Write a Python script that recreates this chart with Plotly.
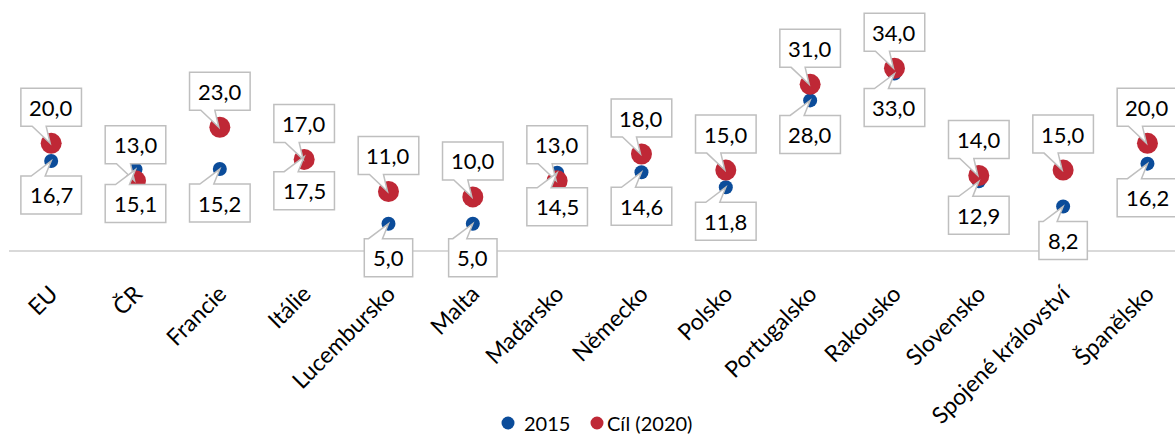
import plotly.graph_objects as go

# Data
categories = ["EU", "ČR", "Francie", "Itálie", "Lucembursko", "Malta", "Maďarsko",
              "Německo", "Polsko", "Portugalsko", "Rakousko", "Slovensko",
              "Spojené království", "Španělsko"]
values_2015 = [16.7, 15.1, 15.2, 17.5, 5.0, 5.0, 14.5, 14.6, 11.8, 28.0, 33.0, 12.9, 8.2, 16.2]
values_2020 = [20.0, 13.0, 23.0, 17.0, 11.0, 10.0, 13.0, 18.0, 15.0, 31.0, 34.0, 14.0, 15.0, 20.0]
series_names = ["2015", "Cíl (2020)"]

BLUE = "#0B4C9A"
RED = "#BF2836"
BOX_LINE = "#BFBFBF"
FONT = "Lato"
FS_LABEL = 22
FS_TICK = 23
FS_LEGEND = 20

W, H = 1175, 437
PX_PER_UNIT = 5.36      # vertical scale
BASE_PX = 250.5         # pixel row of the zero line
CAT_PX = 84.33          # width of one category slot
LEFT = 9

# legend layout (pixels): marker centre x, text start x, row centre y
LEGEND_ITEMS = [(508, 523), (597, 606)]
LEGEND_Y = 423

x_idx = list(range(len(categories)))


def fmt(v):
    return f"{v:.1f}".replace(".", ",")


def box_width(text):
    digits = sum(c.isdigit() for c in text)
    return 18 + 12.2 * digits + 6 * text.count(",")


def px_to_paper_x(px):
    return (px - LEFT) / (W - LEFT)


def px_to_paper_y(py):
    return (H - py) / H


fig = go.Figure()

fig.add_trace(go.Scatter(x=x_idx, y=values_2015, mode="markers", name=series_names[0],
                         showlegend=False,
                         marker=dict(color=BLUE, size=14, line=dict(width=0)),
                         hoverinfo="skip"))
fig.add_trace(go.Scatter(x=x_idx, y=values_2020, mode="markers", name=series_names[1],
                         showlegend=False,
                         marker=dict(color=RED, size=21, line=dict(width=0)),
                         hoverinfo="skip"))

shapes = []
annotations = []


def callout(xi, v, above):
    text = fmt(v)
    w = box_width(text)
    h = 38
    if above:
        gap = 17
        b, t = gap, gap + h
        path = (f"M {-w/2},{b} L -19,{b} L -1,0 L -5,{b} L {w/2},{b} "
                f"L {w/2},{t} L {-w/2},{t} Z")
        ys = gap + h / 2
    else:
        gap = 15
        b, t = -gap, -gap - h
        path = (f"M {-w/2},{b} L -20,{b} L 0,0 L -6,{b} L {w/2},{b} "
                f"L {w/2},{t} L {-w/2},{t} Z")
        ys = -gap - h / 2
    shapes.append(dict(type="path", xref="x", yref="y", xsizemode="pixel",
                       ysizemode="pixel", xanchor=xi, yanchor=v, path=path,
                       fillcolor="white", line=dict(color=BOX_LINE, width=1.5),
                       layer="above"))
    annotations.append(dict(x=xi, y=v, xref="x", yref="y", text=text,
                            showarrow=False, yshift=ys,
                            font=dict(family=FONT, size=FS_LABEL, color="black")))


for xi, v in zip(x_idx, values_2020):
    callout(xi, v, True)
for xi, v in zip(x_idx, values_2015):
    callout(xi, v, False)

# legend row below the category labels
for name, col, (mx, tx) in zip(series_names, [BLUE, RED], LEGEND_ITEMS):
    shapes.append(dict(type="circle", xref="paper", yref="paper",
                       xsizemode="pixel", ysizemode="pixel",
                       xanchor=px_to_paper_x(mx), yanchor=px_to_paper_y(LEGEND_Y),
                       x0=-6.5, x1=6.5, y0=-6.5, y1=6.5,
                       fillcolor=col, line=dict(width=0), layer="above"))
    annotations.append(dict(x=px_to_paper_x(tx), y=px_to_paper_y(LEGEND_Y),
                            xref="paper", yref="paper", xanchor="left",
                            yanchor="middle", text=name, showarrow=False,
                            borderpad=0,
                            font=dict(family=FONT, size=FS_LEGEND, color="black")))

fig.update_layout(
    width=W, height=H,
    margin=dict(l=LEFT, r=0, t=0, b=0),
    paper_bgcolor="white", plot_bgcolor="white",
    shapes=shapes, annotations=annotations,
    showlegend=False,
    font=dict(family=FONT, size=FS_TICK, color="black"),
)
fig.update_xaxes(range=[-0.5, -0.5 + (W - LEFT) / CAT_PX], tickmode="array",
                 tickvals=x_idx, ticktext=categories, tickangle=-45,
                 anchor="free", position=(H - BASE_PX) / H,
                 showgrid=False, zeroline=False,
                 showline=True, linecolor="#D9D9D9", linewidth=1.5, ticks="",
                 ticklabelstandoff=20,
                 tickfont=dict(family=FONT, size=FS_TICK, color="black"))
fig.update_yaxes(range=[-(H - BASE_PX) / PX_PER_UNIT, BASE_PX / PX_PER_UNIT],
                 showgrid=False, zeroline=False,
                 showticklabels=False, showline=False)

fig.write_html("out.html")
